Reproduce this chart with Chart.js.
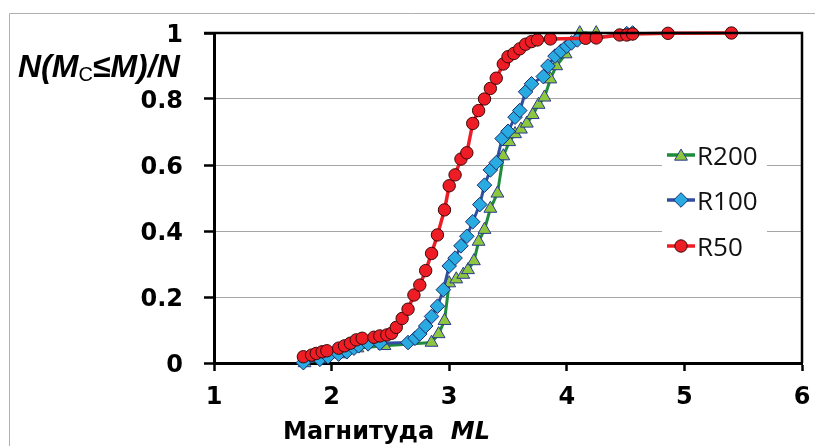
<!DOCTYPE html>
<html><head><meta charset="utf-8">
<script src="https://cdn.jsdelivr.net/npm/chart.js@4/dist/chart.umd.min.js"></script>
<style>html,body{margin:0;padding:0;background:#fff;} canvas{display:block;}</style>
</head><body><canvas id="c" width="815" height="446"></canvas>
<script>
// ---- data ----
const seriesNames = ['R200', 'R100', 'R50'];
const xTicks = [1, 2, 3, 4, 5, 6];
const yTicks = [0, 0.2, 0.4, 0.6, 0.8, 1];
const xTitle = 'Магнитуда  ';
const xTitleItalic = 'ML';

const r200X = [1.77,1.92,2.07,2.22,2.45,2.85,2.91,2.96,3.00,3.06,3.12,3.16,3.21,3.25,3.30,3.35,3.41,3.46,3.51,3.56,3.61,3.66,3.71,3.76,3.81,3.86,3.91,3.99,4.11,4.25];
const r200Y = [0.0,0.012,0.027,0.045,0.052,0.062,0.088,0.128,0.242,0.254,0.268,0.282,0.309,0.368,0.404,0.468,0.514,0.627,0.670,0.694,0.708,0.726,0.752,0.783,0.805,0.860,0.900,0.936,1.0,1.0];

const r100X = [1.76,1.90,1.97,2.06,2.13,2.19,2.23,2.31,2.41,2.65,2.71,2.75,2.80,2.85,2.90,2.95,3.00,3.05,3.10,3.15,3.20,3.26,3.30,3.35,3.40,3.45,3.50,3.56,3.60,3.65,3.70,3.80,3.84,3.90,3.95,4.00,4.04,4.09,4.51,4.56];
const r100Y = [0.001,0.011,0.019,0.027,0.034,0.045,0.052,0.058,0.060,0.062,0.075,0.088,0.112,0.141,0.172,0.222,0.294,0.318,0.355,0.384,0.428,0.480,0.539,0.585,0.607,0.680,0.702,0.745,0.765,0.822,0.846,0.868,0.900,0.930,0.945,0.960,0.970,0.979,0.998,1.0];

const r50X = [1.76,1.83,1.87,1.92,1.96,2.06,2.11,2.16,2.21,2.26,2.36,2.41,2.47,2.51,2.55,2.60,2.65,2.70,2.75,2.80,2.85,2.90,2.96,3.00,3.05,3.10,3.15,3.20,3.25,3.30,3.35,3.40,3.46,3.50,3.55,3.60,3.65,3.70,3.75,3.86,4.16,4.25,4.45,4.51,4.56,4.86,5.40];
const r50Y = [0.019,0.024,0.029,0.034,0.037,0.045,0.052,0.060,0.070,0.075,0.078,0.082,0.085,0.090,0.108,0.135,0.163,0.206,0.236,0.280,0.332,0.388,0.464,0.537,0.570,0.618,0.637,0.726,0.765,0.800,0.832,0.863,0.906,0.928,0.938,0.952,0.966,0.974,0.979,0.982,0.984,0.985,0.994,0.994,0.997,0.999,1.0];

// ---- styles ----
const styles = [
  {line:'#1e8c3c', fill:'#8dc63f', edge:'#2b3990', shape:'triangle', r:7.4},
  {line:'#2e4ea2', fill:'#29abe2', edge:'#1b2d6b', shape:'rectRot', r:7.3},
  {line:'#ee1c24', fill:'#ee1c24', edge:'#3a0808', shape:'circle', r:6.2}
];
const xs = [r200X, r100X, r50X];
const ys = [r200Y, r100Y, r50Y];

const datasets = seriesNames.map((name, i) => ({
  label: name,
  data: xs[i].map((x, k) => ({x: x, y: ys[i][k]})),
  showLine: true,
  tension: 0,
  borderColor: styles[i].line,
  borderWidth: i === 2 ? 3.5 : 3,
  pointStyle: styles[i].shape,
  pointRadius: styles[i].r,
  pointBackgroundColor: styles[i].fill,
  pointBorderColor: styles[i].edge,
  pointBorderWidth: 1,
  clip: false,
  order: 3 - i
}));

function drawMarker(ctx, shape, x, y, r, fill, edge) {
  ctx.save();
  ctx.beginPath();
  if (shape === 'circle') {
    ctx.arc(x, y, r, 0, Math.PI * 2);
  } else if (shape === 'rectRot') {
    ctx.moveTo(x, y - r); ctx.lineTo(x + r, y); ctx.lineTo(x, y + r); ctx.lineTo(x - r, y); ctx.closePath();
  } else {
    const a = -Math.PI / 2;
    for (let k = 0; k < 3; k++) {
      const ang = a + k * 2 * Math.PI / 3;
      const px = x + Math.cos(ang) * r, py = y + Math.sin(ang) * r + r * 0.2;
      if (k === 0) ctx.moveTo(px, py); else ctx.lineTo(px, py);
    }
    ctx.closePath();
  }
  ctx.fillStyle = fill; ctx.fill();
  ctx.lineWidth = 1; ctx.strokeStyle = edge; ctx.stroke();
  ctx.restore();
}

const decor = {
  id: 'decor',
  afterDraw(chart) {
    const ctx = chart.ctx;
    const a = chart.chartArea;
    ctx.save();
    // outer frame (thin)
    ctx.strokeStyle = '#b0b0b0'; ctx.lineWidth = 1;
    ctx.beginPath(); ctx.moveTo(9.5, 446); ctx.lineTo(9.5, 13.5); ctx.lineTo(815, 13.5); ctx.stroke();
    // plot frame top/right
    ctx.strokeStyle = '#000'; ctx.lineWidth = 2.5;
    ctx.beginPath(); ctx.moveTo(a.left - 10, a.top); ctx.lineTo(a.right, a.top); ctx.lineTo(a.right, a.bottom); ctx.stroke();
    // legend
    ctx.fillStyle = '#fff';
    ctx.fillRect(662, 137, 105, 126);
    const ly = [155, 200, 246];
    [0, 1, 2].forEach((i, k) => {
      const s = styles[i];
      ctx.strokeStyle = s.line; ctx.lineWidth = 3.5;
      ctx.beginPath(); ctx.moveTo(667, ly[k]); ctx.lineTo(695, ly[k]); ctx.stroke();
      drawMarker(ctx, s.shape, 681, ly[k], s.r, s.fill, s.edge);
      ctx.fillStyle = '#111';
      ctx.font = '26px "Open Sans"';
      ctx.textBaseline = 'alphabetic'; ctx.textAlign = 'left';
      ctx.fillText(seriesNames[i], 697, ly[k] + 10);
    });
    // y title  N(M_C<=M)/N
    ctx.fillStyle = '#000';
    ctx.textBaseline = 'alphabetic'; ctx.textAlign = 'left';
    let x = 18; const base = 77;
    ctx.font = 'italic bold 32px "Liberation Sans"';
    ctx.fillText('N(M', x, base); x += ctx.measureText('N(M').width;
    ctx.font = '20px "Liberation Sans"';
    ctx.fillText('C', x, base + 4); x += ctx.measureText('C').width;
    ctx.font = 'italic bold 32px "Liberation Sans"';
    ctx.fillText('\u2264M)/N', x, base);
    // x title
    let tx = 283; const tb = 439;
    ctx.font = 'bold 24px "DejaVu Sans"';
    ctx.fillText(xTitle, tx, tb); tx += ctx.measureText(xTitle).width;
    ctx.font = 'italic bold 24px "DejaVu Sans"';
    ctx.fillText(xTitleItalic, tx, tb);
    ctx.restore();
  }
};

new Chart(document.getElementById('c'), {
  type: 'scatter',
  data: { datasets },
  options: {
    responsive: false,
    animation: false,
    events: [],
    layout: { padding: { top: 33, right: 13, left: 0, bottom: 0 } },
    plugins: { legend: { display: false }, tooltip: { enabled: false } },
    scales: {
      x: {
        type: 'linear', min: 1, max: 6,
        afterFit: s => { s.height = 83; s.paddingLeft = 0; s.paddingRight = 0; },
        afterBuildTicks: s => { s.ticks = xTicks.map(v => ({value: v})); },
        ticks: { color: '#000', font: { family: '"DejaVu Sans"', size: 24, weight: 'bold' }, padding: 12, maxRotation: 0 },
        grid: { drawOnChartArea: false, drawTicks: true, tickLength: 8, tickColor: '#000', tickWidth: 2.5 },
        border: { color: '#000', width: 3 }
      },
      y: {
        min: 0, max: 1,
        afterFit: s => { s.width = 214; s.paddingTop = 0; s.paddingBottom = 0; },
        afterBuildTicks: s => { s.ticks = yTicks.map(v => ({value: v})); },
        ticks: { color: '#000', font: { family: '"DejaVu Sans"', size: 24, weight: 'bold' }, padding: 21, labelOffset: 3,
          callback: v => String(v) },
        grid: { color: '#a6a6a6', lineWidth: 1, drawTicks: true, tickLength: 10, tickColor: '#000', tickWidth: 2.5 },
        border: { color: '#000', width: 3 }
      }
    }
  },
  plugins: [decor]
});
</script>
</body></html>
